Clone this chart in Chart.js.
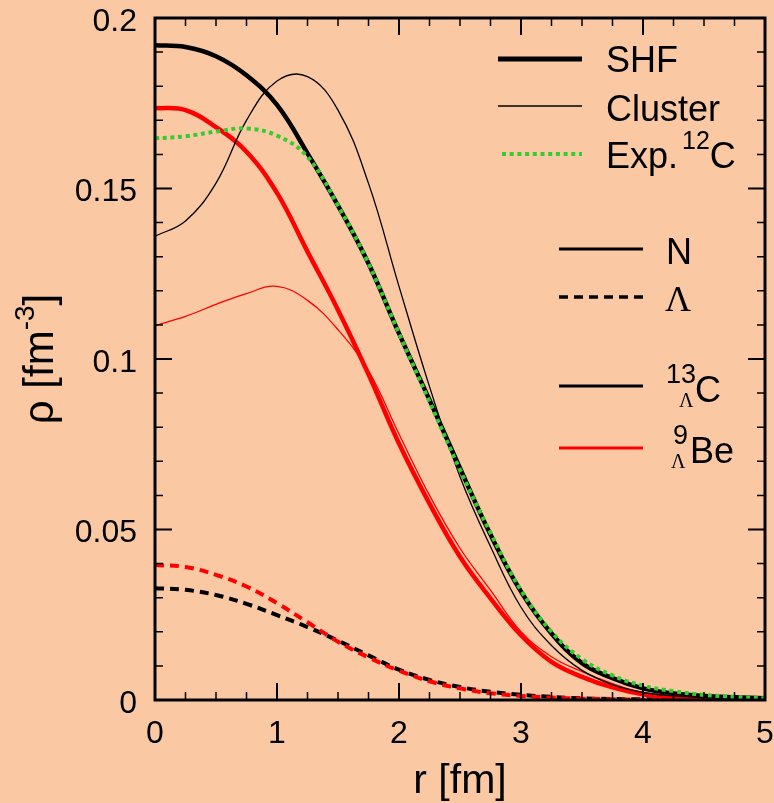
<!DOCTYPE html>
<html>
<head>
<meta charset="utf-8">
<script src="https://cdn.jsdelivr.net/npm/chart.js@4.4.0/dist/chart.umd.min.js"></script>
<style>
  html, body { margin: 0; padding: 0; background: #fac9a4; }
  canvas { display: block; }
</style>
</head>
<body>
<canvas id="rho" width="774" height="803"></canvas>
<script>
  // radial grid, fm
  const rGrid = [0, 0.25, 0.5, 0.75, 1, 1.25, 1.5, 1.75, 2, 2.25, 2.5, 2.75, 3, 3.25, 3.5, 3.75, 4, 4.25, 4.5, 4.75, 5];

  // nucleon densities (fm^-3)
  const shfC13N = [0.1920, 0.1915, 0.1888, 0.1832, 0.1745, 0.1603, 0.1450, 0.1280, 0.1075, 0.0880, 0.0680, 0.0485, 0.0318, 0.0195, 0.0108, 0.0064, 0.0034, 0.0019, 0.0012, 0.0008, 0.0005];
  const clusterC13N = [0.1360, 0.1405, 0.1516, 0.1700, 0.1815, 0.1828, 0.1730, 0.1515, 0.1213, 0.0919, 0.0655, 0.0450, 0.0272, 0.0160, 0.0087, 0.0045, 0.0022, 0.0012, 0.0007, 0.0004, 0.0002];
  const shfBe9N = [0.1736, 0.1730, 0.1680, 0.1608, 0.1487, 0.1315, 0.1144, 0.0955, 0.0752, 0.0576, 0.0420, 0.0298, 0.0190, 0.0112, 0.0068, 0.0037, 0.0017, 0.0009, 0.0005, 0.0003, 0.0001];
  const clusterBe9N = [0.1098, 0.1125, 0.1160, 0.1192, 0.1213, 0.1172, 0.1086, 0.0965, 0.0780, 0.0600, 0.0445, 0.0322, 0.0200, 0.0127, 0.0083, 0.0048, 0.0022, 0.0012, 0.0006, 0.0003, 0.0001];
  const expC12 = [0.1647, 0.1653, 0.1667, 0.1676, 0.1655, 0.1593, 0.1450, 0.1280, 0.1075, 0.0875, 0.0675, 0.0490, 0.0322, 0.0200, 0.0120, 0.0072, 0.0042, 0.0026, 0.0015, 0.0009, 0.0005];

  // lambda densities (SHF)
  const shfC13L = [0.0328, 0.0323, 0.0308, 0.0282, 0.0249, 0.0214, 0.0174, 0.0131, 0.0089, 0.0059, 0.0038, 0.0024, 0.0015, 0.0009, 0.0005, 0.0003, 0.0002, 0.0001, 0.0001, 0, 0];
  const shfBe9L = [0.0396, 0.0390, 0.0367, 0.0333, 0.0284, 0.0228, 0.0171, 0.0125, 0.0086, 0.0055, 0.0034, 0.0020, 0.0012, 0.0007, 0.0004, 0.0002, 0.0001, 0.0001, 0, 0, 0];

  // tick labels
  const xTickValues = [0, 1, 2, 3, 4, 5];
  const xTickLabels = ['0', '1', '2', '3', '4', '5'];
  const yTickValues = [0, 0.05, 0.1, 0.15, 0.2];
  const yTickLabels = ['0', '0.05', '0.1', '0.15', '0.2'];

  const SANS = '"Liberation Sans", Arial, sans-serif';
  const SERIF = '"Liberation Serif", "Times New Roman", serif';
  const PEACH = '#fac9a4';
  const RED = '#ff0000';
  const GREEN = '#33cc33';

  function toPoints(values) {
    return rGrid.map((r, i) => ({ x: r, y: values[i] }));
  }

  function curve(values, color, width, dash) {
    return {
      data: toPoints(values),
      borderColor: color,
      borderWidth: width,
      borderDash: dash || [],
      borderCapStyle: 'butt',
      pointRadius: 0,
      fill: false,
      tension: 0.4
    };
  }

  // draw a line sample of the legend
  function sample(ctx, x1, x2, y, color, width, dash) {
    ctx.save();
    ctx.strokeStyle = color;
    ctx.lineWidth = width;
    ctx.setLineDash(dash || []);
    ctx.beginPath();
    ctx.moveTo(x1, y);
    ctx.lineTo(x2, y);
    ctx.stroke();
    ctx.restore();
  }

  function text(ctx, str, x, y, size, family) {
    ctx.font = size + 'px ' + (family || SANS);
    ctx.fillText(str, x, y);
    return ctx.measureText(str).width;
  }

  const framePlugin = {
    id: 'frame',
    beforeDraw(chart) {
      const ctx = chart.ctx;
      ctx.save();
      ctx.fillStyle = PEACH;
      ctx.fillRect(0, 0, chart.width, chart.height);
      ctx.restore();
    },
    afterDatasetsDraw(chart) {
      const { ctx, chartArea: a, scales: { x, y } } = chart;
      ctx.save();
      ctx.strokeStyle = '#000';

      // inward ticks on all four sides
      for (let i = 0; i <= 20; i++) {
        const px = x.getPixelForValue(i * 0.25);
        const len = i % 4 === 0 ? 17 : 8;
        ctx.lineWidth = i % 4 === 0 ? 2 : 1.5;
        ctx.beginPath();
        ctx.moveTo(px, a.bottom); ctx.lineTo(px, a.bottom - len);
        ctx.moveTo(px, a.top); ctx.lineTo(px, a.top + len);
        ctx.stroke();
      }
      for (let i = 0; i <= 20; i++) {
        const py = y.getPixelForValue(i * 0.01);
        const len = i % 5 === 0 ? 17 : 8;
        ctx.lineWidth = i % 5 === 0 ? 2 : 1.5;
        ctx.beginPath();
        ctx.moveTo(a.left, py); ctx.lineTo(a.left + len, py);
        ctx.moveTo(a.right, py); ctx.lineTo(a.right - len, py);
        ctx.stroke();
      }
      ctx.lineWidth = 3;
      ctx.strokeRect(a.left, a.top, a.right - a.left, a.bottom - a.top);

      // tick labels
      ctx.fillStyle = '#000';
      ctx.textBaseline = 'alphabetic';
      ctx.textAlign = 'center';
      xTickValues.forEach((v, i) => text(ctx, xTickLabels[i], x.getPixelForValue(v), a.bottom + 43, 32));
      ctx.textAlign = 'right';
      yTickValues.forEach((v, i) => text(ctx, yTickLabels[i], a.left - 18, y.getPixelForValue(v) + 12.5, 32));

      // legend
      ctx.textAlign = 'left';
      sample(ctx, 498, 582, 59, '#000', 5);
      text(ctx, 'SHF', 606, 72, 36);
      sample(ctx, 498, 582, 106, '#000', 1.3);
      text(ctx, 'Cluster', 606, 121, 36);
      sample(ctx, 502, 582, 154, GREEN, 4, [4, 3.7]);
      let w = text(ctx, 'Exp.', 606, 168, 36);
      w += text(ctx, '12', 606 + w + 4, 149, 25);
      text(ctx, 'C', 610 + w, 168, 36);

      sample(ctx, 559, 643, 249, '#000', 3.2);
      text(ctx, 'N', 666, 264, 36);
      sample(ctx, 559, 643, 297, '#000', 3.5, [9, 6]);
      text(ctx, 'Λ', 665, 311, 36, SERIF);

      sample(ctx, 559, 643, 386, '#000', 3.2);
      text(ctx, '13', 666, 383, 27);
      text(ctx, 'Λ', 679, 407, 20, SERIF);
      text(ctx, 'C', 695, 402, 36);
      sample(ctx, 559, 643, 448, RED, 3.2);
      text(ctx, '9', 673, 444, 27);
      text(ctx, 'Λ', 671, 468, 20, SERIF);
      text(ctx, 'Be', 690, 463, 36);

      // axis titles
      ctx.textAlign = 'center';
      text(ctx, 'r [fm]', (a.left + a.right) / 2, 793, 41);

      ctx.textAlign = 'left';
      ctx.font = '42px ' + SANS;
      const w1 = ctx.measureText('ρ [fm').width;
      ctx.font = '28px ' + SANS;
      const w2 = ctx.measureText('-3').width;
      ctx.font = '42px ' + SANS;
      const w3 = ctx.measureText(']').width;
      ctx.translate(53, (a.top + a.bottom) / 2);
      ctx.rotate(-Math.PI / 2);
      const x0 = -(w1 + w2 + w3) / 2;
      text(ctx, 'ρ [fm', x0, 0, 42);
      text(ctx, '-3', x0 + w1, -19, 28);
      text(ctx, ']', x0 + w1 + w2, 0, 42);
      ctx.restore();
    }
  };

  new Chart(document.getElementById('rho'), {
    type: 'line',
    data: {
      datasets: [
        curve(expC12, GREEN, 4, [4, 3.7]),
        curve(clusterC13N, '#000', 1.3),
        curve(clusterBe9N, RED, 1.3),
        curve(shfC13N, '#000', 4.5),
        curve(shfBe9N, RED, 4.5),
        curve(shfBe9L, RED, 4, [9, 6]),
        curve(shfC13L, '#000', 4, [9, 6])
      ]
    },
    options: {
      responsive: false,
      animation: false,
      events: [],
      layout: { padding: { left: 0, right: 9, top: 18, bottom: 0 } },
      plugins: {
        legend: { display: false },
        tooltip: { enabled: false }
      },
      scales: {
        x: {
          type: 'linear',
          min: 0,
          max: 5,
          grid: { display: false },
          border: { display: false },
          ticks: { display: false },
          afterFit(scale) { scale.height = 103; }
        },
        y: {
          type: 'linear',
          min: 0,
          max: 0.2,
          grid: { display: false },
          border: { display: false },
          ticks: { display: false },
          afterFit(scale) { scale.width = 155; }
        }
      }
    },
    plugins: [framePlugin]
  });
</script>
</body>
</html>
